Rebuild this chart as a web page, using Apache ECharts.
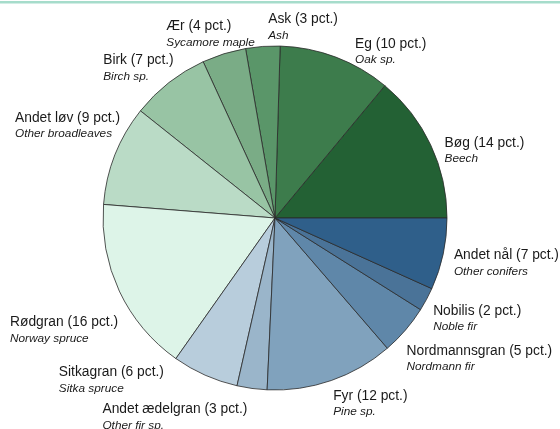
<!DOCTYPE html>
<html>
<head>
<meta charset="utf-8">
<script src="https://cdn.jsdelivr.net/npm/echarts@6/dist/echarts.min.js"></script>
<style>
html,body{margin:0;padding:0;background:#fff;}
#c{width:560px;height:429px;}
</style>
</head>
<body>
<div id="c"></div>
<script>
const namesDa = ['Bøg','Eg','Ask','Ær','Birk','Andet løv','Rødgran','Sitkagran','Andet ædelgran','Fyr','Nordmannsgran','Nobilis','Andet nål'];
const namesEn = ['Beech','Oak sp.','Ash','Sycamore maple','Birch sp.','Other broadleaves','Norway spruce','Sitka spruce','Other fir sp.','Pine sp.','Nordmann fir','Noble fir','Other conifers'];
const pctLabels = [14,10,3,4,7,9,16,6,3,12,5,2,7];
const shares = [13.9,10.5,3.2,4.1,7.4,9.4,16.4,6.2,2.8,12.0,4.7,2.2,6.7];
const colors = ['#236134','#3d7c4c','#5a9669','#7aac86','#98c4a4','#badbc6','#ddf4e8','#b8cddc','#9ab5ca','#80a2bd','#5f87a9','#4a7398','#2f5f8a'];

// label nudges (px) relative to ECharts' own outside-label placement
const labelNudge = [[0,9],[12,4],[79,-9],[83,-33],[37,-30],[15,-26],[10,35],[-9,-4],[0,2],[-5,10],[-11,19],[-7,12],[-4,5]];

const chart = echarts.init(document.getElementById('c'), null, {renderer:'canvas'});
const data = namesDa.map((n,i)=>({
  name: n,
  value: shares[i],
  itemStyle: {color: colors[i]},
  label: {formatter: '{a|' + n + ' (' + pctLabels[i] + ' pct.)}\n{b|' + namesEn[i] + '}'}
}));
chart.setOption({
  animation: false,
  graphic: [{type:'rect', shape:{x:0,y:1,width:560,height:2.5}, style:{fill:'#a6dccb'}}],
  series: [{
    type: 'pie',
    center: [275, 218],
    radius: 172,
    startAngle: 0,
    clockwise: false,
    avoidLabelOverlap: true,
    itemStyle: {borderColor: '#2a2a2a', borderWidth: 0.8},
    emphasis: {disabled: true},
    label: {
      show: true,
      position: 'outside',
      distanceToLabelLine: 3,
      overflow: 'none',
      edgeDistance: 0,
      bleedMargin: 0,
      color: '#1a1a1a',
      fontFamily: 'Liberation Sans',
      rich: {
        a: {fontSize: 13.8, lineHeight: 17, align: 'left', fontFamily: 'Liberation Sans', color: '#1a1a1a'},
        b: {fontSize: 11.8, lineHeight: 15, align: 'left', fontStyle: 'italic', fontFamily: 'Liberation Sans', color: '#1a1a1a'}
      }
    },
    labelLine: {show: false, length: 12, length2: 0},
    labelLayout: function (p) {
      const nd = labelNudge[p.dataIndex];
      return {x: p.labelRect.x + nd[0], y: p.labelRect.y + nd[1], align: 'left', verticalAlign: 'top'};
    },
    data: data
  }]
});
</script>
</body>
</html>
